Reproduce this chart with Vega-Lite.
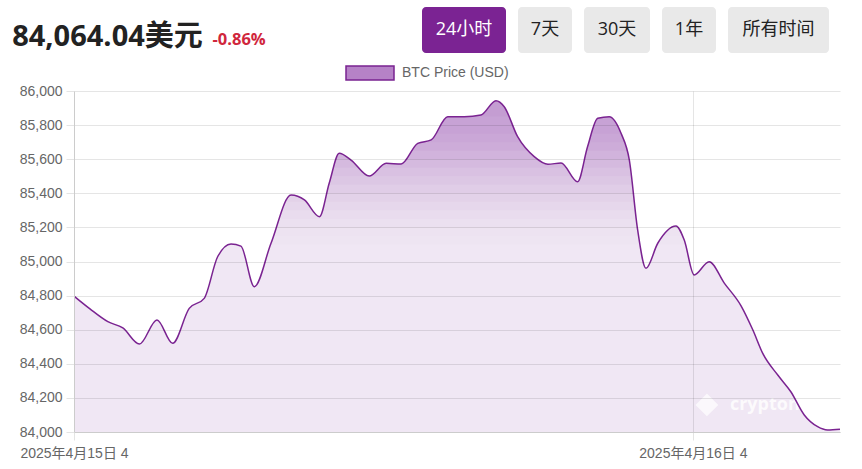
{
  "$schema": "https://vega.github.io/schema/vega-lite/v6.json",
  "padding": {"left": 12, "top": 7, "right": 0, "bottom": 0},
  "spacing": 31,
  "vconcat": [
    {
      "spacing": 156,
      "hconcat": [
        {
          "spacing": 9,
          "hconcat": [
            {
              "width": 67,
              "height": 46,
              "data": {"values": [{"label": "84,064.04美元"}]},
              "mark": {"type": "text", "align": "center", "baseline": "middle", "font": "Open Sans, Noto Sans CJK SC", "fontSize": 29, "fontWeight": "bold", "color": "#222222", "dy": 7},
              "encoding": {"text": {"field": "label"}}
            },
            {
              "width": 1,
              "height": 46,
              "data": {"values": [{"label": "-0.86%"}]},
              "mark": {"type": "text", "align": "left", "baseline": "middle", "font": "Open Sans", "fontSize": 16.5, "fontWeight": "bold", "color": "#d0263c", "dy": 9.5},
              "encoding": {"text": {"field": "label"}}
            }
          ]
        },
        {
          "spacing": 12,
          "hconcat": [
            {
              "width": 84, "height": 46,
              "view": {"fill": "#7b2393", "cornerRadius": 4, "stroke": null},
              "data": {"values": [{"label": "24小时"}]},
              "mark": {"type": "text", "font": "Open Sans, Noto Sans CJK SC", "fontSize": 18, "color": "#ffffff"},
              "encoding": {"text": {"field": "label"}}
            },
            {
              "width": 54, "height": 46,
              "view": {"fill": "#e9e9e9", "cornerRadius": 4, "stroke": null},
              "data": {"values": [{"label": "7天"}]},
              "mark": {"type": "text", "font": "Open Sans, Noto Sans CJK SC", "fontSize": 18, "color": "#222222"},
              "encoding": {"text": {"field": "label"}}
            },
            {
              "width": 66, "height": 46,
              "view": {"fill": "#e9e9e9", "cornerRadius": 4, "stroke": null},
              "data": {"values": [{"label": "30天"}]},
              "mark": {"type": "text", "font": "Open Sans, Noto Sans CJK SC", "fontSize": 18, "color": "#222222"},
              "encoding": {"text": {"field": "label"}}
            },
            {
              "width": 54, "height": 46,
              "view": {"fill": "#e9e9e9", "cornerRadius": 4, "stroke": null},
              "data": {"values": [{"label": "1年"}]},
              "mark": {"type": "text", "font": "Open Sans, Noto Sans CJK SC", "fontSize": 18, "color": "#222222"},
              "encoding": {"text": {"field": "label"}}
            },
            {
              "width": 101, "height": 46,
              "view": {"fill": "#e9e9e9", "cornerRadius": 4, "stroke": null},
              "data": {"values": [{"label": "所有时间"}]},
              "mark": {"type": "text", "font": "Open Sans, Noto Sans CJK SC", "fontSize": 18, "color": "#222222"},
              "encoding": {"text": {"field": "label"}}
            }
          ]
        }
      ]
    },
    {
      "width": 766,
      "height": 341,
      "layer": [
        {"data": {"values": [{}]}, "mark": {"type": "rect", "color": "#f0e7f4"}, "encoding": {"y": {"datum": 84000, "type": "quantitative", "scale": {"domain": [84000, 86000], "nice": false, "zero": false}, "axis": {"title": null, "format": ",.0f", "zindex": 1, "values": [84000, 84200, 84400, 84600, 84800, 85000, 85200, 85400, 85600, 85800, 86000], "labelPadding": 4, "minExtent": 61, "labelOverlap": false}}, "y2": {"datum": 86000}}},
        {"data": {"values": [{}]}, "mark": {"type": "rect", "color": "#eee5f2"}, "encoding": {"y": {"datum": 85100, "type": "quantitative", "scale": {"domain": [84000, 86000], "nice": false, "zero": false}, "axis": {"title": null, "format": ",.0f", "zindex": 1, "values": [84000, 84200, 84400, 84600, 84800, 85000, 85200, 85400, 85600, 85800, 86000], "labelPadding": 4, "minExtent": 61, "labelOverlap": false}}, "y2": {"datum": 86000}}},
        {"data": {"values": [{}]}, "mark": {"type": "rect", "color": "#ede3f1"}, "encoding": {"y": {"datum": 85150, "type": "quantitative", "scale": {"domain": [84000, 86000], "nice": false, "zero": false}, "axis": {"title": null, "format": ",.0f", "zindex": 1, "values": [84000, 84200, 84400, 84600, 84800, 85000, 85200, 85400, 85600, 85800, 86000], "labelPadding": 4, "minExtent": 61, "labelOverlap": false}}, "y2": {"datum": 86000}}},
        {"data": {"values": [{}]}, "mark": {"type": "rect", "color": "#ebe0f0"}, "encoding": {"y": {"datum": 85200, "type": "quantitative", "scale": {"domain": [84000, 86000], "nice": false, "zero": false}, "axis": {"title": null, "format": ",.0f", "zindex": 1, "values": [84000, 84200, 84400, 84600, 84800, 85000, 85200, 85400, 85600, 85800, 86000], "labelPadding": 4, "minExtent": 61, "labelOverlap": false}}, "y2": {"datum": 86000}}},
        {"data": {"values": [{}]}, "mark": {"type": "rect", "color": "#e9dcee"}, "encoding": {"y": {"datum": 85250, "type": "quantitative", "scale": {"domain": [84000, 86000], "nice": false, "zero": false}, "axis": {"title": null, "format": ",.0f", "zindex": 1, "values": [84000, 84200, 84400, 84600, 84800, 85000, 85200, 85400, 85600, 85800, 86000], "labelPadding": 4, "minExtent": 61, "labelOverlap": false}}, "y2": {"datum": 86000}}},
        {"data": {"values": [{}]}, "mark": {"type": "rect", "color": "#e6d7ec"}, "encoding": {"y": {"datum": 85300, "type": "quantitative", "scale": {"domain": [84000, 86000], "nice": false, "zero": false}, "axis": {"title": null, "format": ",.0f", "zindex": 1, "values": [84000, 84200, 84400, 84600, 84800, 85000, 85200, 85400, 85600, 85800, 86000], "labelPadding": 4, "minExtent": 61, "labelOverlap": false}}, "y2": {"datum": 86000}}},
        {"data": {"values": [{}]}, "mark": {"type": "rect", "color": "#e3d2e9"}, "encoding": {"y": {"datum": 85350, "type": "quantitative", "scale": {"domain": [84000, 86000], "nice": false, "zero": false}, "axis": {"title": null, "format": ",.0f", "zindex": 1, "values": [84000, 84200, 84400, 84600, 84800, 85000, 85200, 85400, 85600, 85800, 86000], "labelPadding": 4, "minExtent": 61, "labelOverlap": false}}, "y2": {"datum": 86000}}},
        {"data": {"values": [{}]}, "mark": {"type": "rect", "color": "#e0cde7"}, "encoding": {"y": {"datum": 85400, "type": "quantitative", "scale": {"domain": [84000, 86000], "nice": false, "zero": false}, "axis": {"title": null, "format": ",.0f", "zindex": 1, "values": [84000, 84200, 84400, 84600, 84800, 85000, 85200, 85400, 85600, 85800, 86000], "labelPadding": 4, "minExtent": 61, "labelOverlap": false}}, "y2": {"datum": 86000}}},
        {"data": {"values": [{}]}, "mark": {"type": "rect", "color": "#dcc7e4"}, "encoding": {"y": {"datum": 85450, "type": "quantitative", "scale": {"domain": [84000, 86000], "nice": false, "zero": false}, "axis": {"title": null, "format": ",.0f", "zindex": 1, "values": [84000, 84200, 84400, 84600, 84800, 85000, 85200, 85400, 85600, 85800, 86000], "labelPadding": 4, "minExtent": 61, "labelOverlap": false}}, "y2": {"datum": 86000}}},
        {"data": {"values": [{}]}, "mark": {"type": "rect", "color": "#d9c1e2"}, "encoding": {"y": {"datum": 85500, "type": "quantitative", "scale": {"domain": [84000, 86000], "nice": false, "zero": false}, "axis": {"title": null, "format": ",.0f", "zindex": 1, "values": [84000, 84200, 84400, 84600, 84800, 85000, 85200, 85400, 85600, 85800, 86000], "labelPadding": 4, "minExtent": 61, "labelOverlap": false}}, "y2": {"datum": 86000}}},
        {"data": {"values": [{}]}, "mark": {"type": "rect", "color": "#d5badf"}, "encoding": {"y": {"datum": 85550, "type": "quantitative", "scale": {"domain": [84000, 86000], "nice": false, "zero": false}, "axis": {"title": null, "format": ",.0f", "zindex": 1, "values": [84000, 84200, 84400, 84600, 84800, 85000, 85200, 85400, 85600, 85800, 86000], "labelPadding": 4, "minExtent": 61, "labelOverlap": false}}, "y2": {"datum": 86000}}},
        {"data": {"values": [{}]}, "mark": {"type": "rect", "color": "#d1b3dc"}, "encoding": {"y": {"datum": 85600, "type": "quantitative", "scale": {"domain": [84000, 86000], "nice": false, "zero": false}, "axis": {"title": null, "format": ",.0f", "zindex": 1, "values": [84000, 84200, 84400, 84600, 84800, 85000, 85200, 85400, 85600, 85800, 86000], "labelPadding": 4, "minExtent": 61, "labelOverlap": false}}, "y2": {"datum": 86000}}},
        {"data": {"values": [{}]}, "mark": {"type": "rect", "color": "#cdacd9"}, "encoding": {"y": {"datum": 85650, "type": "quantitative", "scale": {"domain": [84000, 86000], "nice": false, "zero": false}, "axis": {"title": null, "format": ",.0f", "zindex": 1, "values": [84000, 84200, 84400, 84600, 84800, 85000, 85200, 85400, 85600, 85800, 86000], "labelPadding": 4, "minExtent": 61, "labelOverlap": false}}, "y2": {"datum": 86000}}},
        {"data": {"values": [{}]}, "mark": {"type": "rect", "color": "#caa7d7"}, "encoding": {"y": {"datum": 85700, "type": "quantitative", "scale": {"domain": [84000, 86000], "nice": false, "zero": false}, "axis": {"title": null, "format": ",.0f", "zindex": 1, "values": [84000, 84200, 84400, 84600, 84800, 85000, 85200, 85400, 85600, 85800, 86000], "labelPadding": 4, "minExtent": 61, "labelOverlap": false}}, "y2": {"datum": 86000}}},
        {"data": {"values": [{}]}, "mark": {"type": "rect", "color": "#c7a2d5"}, "encoding": {"y": {"datum": 85750, "type": "quantitative", "scale": {"domain": [84000, 86000], "nice": false, "zero": false}, "axis": {"title": null, "format": ",.0f", "zindex": 1, "values": [84000, 84200, 84400, 84600, 84800, 85000, 85200, 85400, 85600, 85800, 86000], "labelPadding": 4, "minExtent": 61, "labelOverlap": false}}, "y2": {"datum": 86000}}},
        {"data": {"values": [{}]}, "mark": {"type": "rect", "color": "#c49dd2"}, "encoding": {"y": {"datum": 85850, "type": "quantitative", "scale": {"domain": [84000, 86000], "nice": false, "zero": false}, "axis": {"title": null, "format": ",.0f", "zindex": 1, "values": [84000, 84200, 84400, 84600, 84800, 85000, 85200, 85400, 85600, 85800, 86000], "labelPadding": 4, "minExtent": 61, "labelOverlap": false}}, "y2": {"datum": 86000}}},
        {
          "data": {"name": "btc"},
          "mark": {"type": "area", "interpolate": "monotone", "color": "#ffffff"},
          "encoding": {
            "x": {
              "field": "h", "type": "quantitative",
              "scale": {"domain": [0, 24], "nice": false, "zero": false},
              "axis": {
                "title": null, "values": [0, 19.39], "zindex": 1,
                "labelExpr": "datum.value < 1 ? '2025年4月15日 4' : '2025年4月16日 4'",
                "labelFlush": false, "labelOverlap": false, "labelPadding": 6
              }
            },
            "y": {"field": "price", "type": "quantitative", "scale": {"domain": [84000, 86000], "nice": false, "zero": false}, "axis": {"title": null, "format": ",.0f", "zindex": 1, "values": [84000, 84200, 84400, 84600, 84800, 85000, 85200, 85400, 85600, 85800, 86000], "labelPadding": 4, "minExtent": 61, "labelOverlap": false}},
            "y2": {"datum": 86000}
          }
        },
        {
          "data": {"values": [{"label": "cryptonews"}]},
          "mark": {"type": "point", "shape": "diamond", "filled": true, "size": 520, "color": "#ffffff", "opacity": 0.7},
          "encoding": {
            "x": {
              "datum": 19.83, "type": "quantitative",
              "scale": {"domain": [0, 24], "nice": false, "zero": false},
              "axis": {
                "title": null, "values": [0, 19.39], "zindex": 1,
                "labelExpr": "datum.value < 1 ? '2025年4月15日 4' : '2025年4月16日 4'",
                "labelFlush": false, "labelOverlap": false, "labelPadding": 6
              }
            },
            "y": {"datum": 84159, "type": "quantitative", "scale": {"domain": [84000, 86000], "nice": false, "zero": false}, "axis": {"title": null, "format": ",.0f", "zindex": 1, "values": [84000, 84200, 84400, 84600, 84800, 85000, 85200, 85400, 85600, 85800, 86000], "labelPadding": 4, "minExtent": 61, "labelOverlap": false}}
          }
        },
        {
          "data": {"values": [{"label": "cryptonews"}]},
          "mark": {"type": "text", "align": "left", "baseline": "middle", "font": "Open Sans", "fontSize": 18, "fontWeight": "bold", "color": "#ffffff", "opacity": 0.8},
          "encoding": {
            "x": {
              "datum": 20.55, "type": "quantitative",
              "scale": {"domain": [0, 24], "nice": false, "zero": false},
              "axis": {
                "title": null, "values": [0, 19.39], "zindex": 1,
                "labelExpr": "datum.value < 1 ? '2025年4月15日 4' : '2025年4月16日 4'",
                "labelFlush": false, "labelOverlap": false, "labelPadding": 6
              }
            },
            "y": {"datum": 84159, "type": "quantitative", "scale": {"domain": [84000, 86000], "nice": false, "zero": false}, "axis": {"title": null, "format": ",.0f", "zindex": 1, "values": [84000, 84200, 84400, 84600, 84800, 85000, 85200, 85400, 85600, 85800, 86000], "labelPadding": 4, "minExtent": 61, "labelOverlap": false}},
            "text": {"field": "label"}
          }
        },
        {
          "data": {"name": "btc"},
          "mark": {"type": "line", "interpolate": "monotone", "strokeWidth": 1.5},
          "encoding": {
            "x": {
              "field": "h", "type": "quantitative",
              "scale": {"domain": [0, 24], "nice": false, "zero": false},
              "axis": {
                "title": null, "values": [0, 19.39], "zindex": 1,
                "labelExpr": "datum.value < 1 ? '2025年4月15日 4' : '2025年4月16日 4'",
                "labelFlush": false, "labelOverlap": false, "labelPadding": 6
              }
            },
            "y": {"field": "price", "type": "quantitative", "scale": {"domain": [84000, 86000], "nice": false, "zero": false}, "axis": {"title": null, "format": ",.0f", "zindex": 1, "values": [84000, 84200, 84400, 84600, 84800, 85000, 85200, 85400, 85600, 85800, 86000], "labelPadding": 4, "minExtent": 61, "labelOverlap": false}},
            "color": {
              "datum": "BTC Price (USD)",
              "scale": {"range": ["#7a2391"]},
              "legend": {
                "orient": "none", "legendX": 271, "legendY": 41, "title": null,
                "symbolType": "M-1,-0.29H1V0.29H-1Z", "symbolSize": 2304,
                "symbolFillColor": "#b682c7", "symbolStrokeColor": "#7a2391", "symbolStrokeWidth": 1.5,
                "labelFontSize": 14, "labelColor": "#666666", "labelOffset": 7, "labelFont": "Liberation Sans"
              }
            }
          }
        }
      ]
    }
  ],
  "datasets": {
    "btc": [
      {"h": 0.00, "price": 84797},
      {"h": 0.50, "price": 84722},
      {"h": 1.06, "price": 84647},
      {"h": 1.53, "price": 84610},
      {"h": 2.05, "price": 84516},
      {"h": 2.60, "price": 84657},
      {"h": 3.09, "price": 84520},
      {"h": 3.61, "price": 84725},
      {"h": 4.08, "price": 84784},
      {"h": 4.50, "price": 85028},
      {"h": 4.92, "price": 85103},
      {"h": 5.23, "price": 85090},
      {"h": 5.65, "price": 84852},
      {"h": 6.17, "price": 85106},
      {"h": 6.80, "price": 85390},
      {"h": 7.22, "price": 85361},
      {"h": 7.69, "price": 85263},
      {"h": 8.00, "price": 85462},
      {"h": 8.31, "price": 85635},
      {"h": 8.68, "price": 85595},
      {"h": 9.25, "price": 85501},
      {"h": 9.78, "price": 85576},
      {"h": 10.25, "price": 85572},
      {"h": 10.77, "price": 85693},
      {"h": 11.19, "price": 85713},
      {"h": 11.71, "price": 85849},
      {"h": 12.23, "price": 85849},
      {"h": 12.75, "price": 85859},
      {"h": 13.22, "price": 85943},
      {"h": 13.48, "price": 85908},
      {"h": 13.90, "price": 85732},
      {"h": 14.42, "price": 85615},
      {"h": 14.85, "price": 85570},
      {"h": 15.26, "price": 85578},
      {"h": 15.78, "price": 85468},
      {"h": 16.09, "price": 85673},
      {"h": 16.41, "price": 85840},
      {"h": 16.77, "price": 85849},
      {"h": 17.14, "price": 85752},
      {"h": 17.40, "price": 85595},
      {"h": 17.66, "price": 85185},
      {"h": 17.92, "price": 84960},
      {"h": 18.29, "price": 85107},
      {"h": 18.86, "price": 85208},
      {"h": 19.12, "price": 85126},
      {"h": 19.43, "price": 84921},
      {"h": 19.90, "price": 84999},
      {"h": 20.38, "price": 84872},
      {"h": 20.90, "price": 84740},
      {"h": 21.27, "price": 84598},
      {"h": 21.58, "price": 84461},
      {"h": 22.05, "price": 84334},
      {"h": 22.46, "price": 84236},
      {"h": 22.88, "price": 84100},
      {"h": 23.30, "price": 84031},
      {"h": 23.61, "price": 84012},
      {"h": 24.00, "price": 84016}
    ]
  },
  "config": {
    "view": {"stroke": null},
    "font": "Liberation Sans, Noto Sans CJK SC",
    "axis": {
      "grid": true, "gridColor": "#000000", "gridOpacity": 0.1, "tickColor": "#e4e4e4", "tickSize": 8,
      "domainColor": "#cccccc", "labelColor": "#666666", "labelFontSize": 14,
      "labelFont": "Liberation Sans, Noto Sans CJK SC", "zindex": 1
    }
  }
}
